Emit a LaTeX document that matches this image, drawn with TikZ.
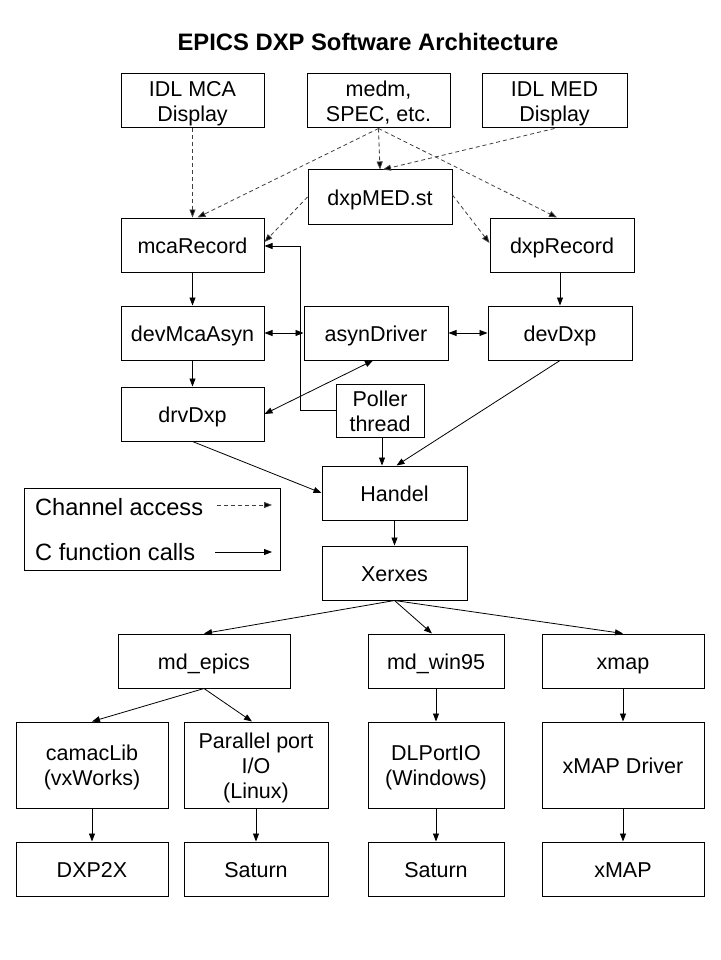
\documentclass[tikz,border=0pt]{standalone}
\usepackage{fontspec}
\setmainfont{Liberation Sans}
\usetikzlibrary{arrows.meta,calc}
\begin{document}
\begin{tikzpicture}[x=1pt,y=-1pt,
  box/.style={draw, line width=1pt, minimum width=144pt, minimum height=54pt, inner sep=0pt, align=center, font=\fontsize{21.5}{25}\selectfont, text height=16pt, text depth=0pt},
  two/.style={text height=41pt},
  three/.style={text height=66pt},
  ca/.style={-{Triangle[length=8pt,width=6pt,fill=black]}, dash pattern=on 4pt off 3pt, line width=0.8pt, draw=black!75},
  fc/.style={-{Triangle[length=8pt,width=6pt]}, line width=0.8pt},
  fcb/.style={{Triangle[length=8pt,width=6pt]}-{Triangle[length=8pt,width=6pt]}, line width=0.8pt},
  lgtext/.style={anchor=base west, inner sep=0pt, font=\fontsize{23.6}{27}\selectfont}]
\useasboundingbox[fill=white] (0,0) rectangle (720,960);

% title
\node[font=\fontsize{23.8}{27}\selectfont\bfseries] (title) at (368,42) {EPICS DXP Software Architecture};

% top row
\node[box, two, minimum width=143pt] (idlmca) at (192.5,101) {IDL MCA\\Display};
\node[box, two, minimum width=143pt] (medm) at (378.5,101) {medm,\\SPEC, etc.};
\node[box, two, minimum width=145pt] (idlmed) at (554.5,101) {IDL MED\\Display};

\node[box] (dxpmed) at (380,197) {dxpMED.st};
\node[box, minimum width=143pt] (mcarec) at (192.5,245) {mcaRecord};
\node[box] (dxprec) at (562,245) {dxpRecord};

\node[box, minimum width=143pt] (devmca) at (192.5,333) {devMcaAsyn};
\node[box] (asyn) at (376,333) {asynDriver};
\node[box] (devdxp) at (560,333) {devDxp};

\node[box, minimum width=143pt] (drvdxp) at (192.5,414) {drvDxp};
\node[box, two, minimum width=88pt, minimum height=53pt] (poller) at (380,410.5) {Poller\\thread};

\node[box, minimum width=145pt] (handel) at (394.5,493) {Handel};
\node[box, minimum width=145pt] (xerxes) at (394.5,573) {Xerxes};

\node[box, minimum width=172pt] (mdepics) at (204,661) {md\_epics};
\node[box, minimum width=136pt] (mdwin) at (436,661) {md\_win95};
\node[box, minimum width=162pt] (xmap) at (623,661) {xmap};

\node[box, two, minimum width=152pt, minimum height=86pt] (camac) at (92,765) {camacLib\\(vxWorks)};
\node[box, three, minimum height=86pt] (parallel) at (256,765) {Parallel port\\I/O\\(Linux)};
\node[box, two, minimum width=136pt, minimum height=86pt] (dlport) at (436,765) {DLPortIO\\(Windows)};
\node[box, minimum width=162pt, minimum height=86pt] (xmapdrv) at (623,765) {xMAP Driver};

\node[box, minimum width=152pt] (dxp2x) at (92,869) {DXP2X};
\node[box] (saturna) at (256,869) {Saturn};
\node[box, minimum width=136pt] (saturnb) at (436,869) {Saturn};
\node[box, minimum width=162pt] (xmapb) at (623,869) {xMAP};

% legend
\node[draw, line width=1pt, minimum width=256pt, minimum height=82pt, inner sep=0pt] (legend) at (152,529) {};
\node[lgtext] (lgca) at (35,515) {Channel access};
\node[lgtext] (lgfc) at (35,560) {C function calls};
\coordinate (ca1) at (217,505);
\coordinate (ca2) at (272,505);
\coordinate (fc1) at (215,552);
\coordinate (fc2) at (272,552);
\draw[ca] (ca1) -- (ca2);
\draw[fc] (fc1) -- (fc2);

% channel access connectors
\draw[ca] (idlmca.south) -- (mcarec.north);
\draw[ca] (medm.south) -- ($(mcarec.north)+(5,0)$);
\draw[ca] (medm.south) -- (dxpmed.north);
\draw[ca] (idlmed.south) -- ($(dxpmed.north)+(3,0)$);
\draw[ca] (medm.south) -- ($(dxprec.north)+(-5,0)$);
\draw[ca] (dxpmed.west) -- ($(mcarec.east)+(0,-3)$);
\draw[ca] ($(dxpmed.east)+(0,-2)$) -- ($(dxprec.west)+(0,-2)$);

% function call connectors
\coordinate (pk) at (300,246);
\coordinate (pb) at ($(poller.south)+(2,0)$);
\draw[fc] (poller.west) -| (pk) -- ($(mcarec.east)+(0,1)$);
\draw[fc] (mcarec.south) -- (devmca.north);
\draw[fc] (devdxp.north |- dxprec.south) -- (devdxp.north);
\draw[fcb] (devmca.east) -- (asyn.west);
\draw[fcb] (asyn.east) -- (devdxp.west);
\draw[fc] (devmca.south) -- (drvdxp.north);
\draw[fcb] ($(asyn.south)+(-3,0)$) -- (drvdxp.east);
\draw[fc] (drvdxp.south) -- (handel.west);
\draw[fc] (pb) -- (pb |- handel.north);
\draw[fc] (devdxp.south) -- ($(handel.north)+(2,0)$);
\draw[fc] (handel.south) -- (xerxes.north);
\draw[fc] (xerxes.south) -- (mdepics.north);
\draw[fc] (xerxes.south) -- ($(mdwin.north)+(-4,0)$);
\draw[fc] (xerxes.south) -- (xmap.north);
\draw[fc] (mdepics.south) -- (camac.north);
\draw[fc] (mdepics.south) -- ($(parallel.north)+(-4,0)$);
\draw[fc] (camac.south) -- (dxp2x.north);
\draw[fc] (parallel.south) -- (saturna.north);
\draw[fc] (mdwin.south) -- (dlport.north);
\draw[fc] (dlport.south) -- (saturnb.north);
\draw[fc] (xmap.south) -- (xmapdrv.north);
\draw[fc] (xmapdrv.south) -- (xmapb.north);
\end{tikzpicture}
\end{document}
